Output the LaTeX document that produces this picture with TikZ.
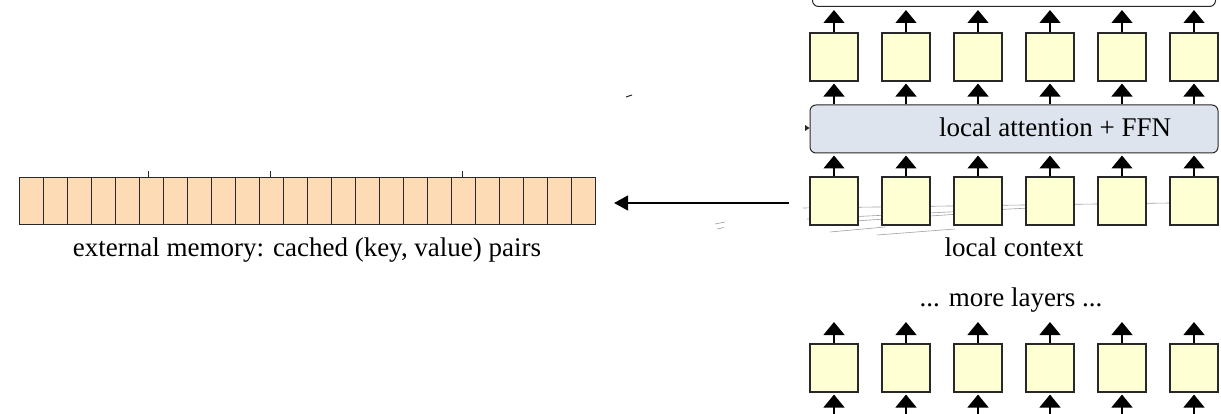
\documentclass[tikz,border=0pt]{standalone}
\usepackage{fontspec}
\setmainfont{Liberation Serif}
\usetikzlibrary{arrows.meta}

\definecolor{memfill}{RGB}{253,219,180}
\definecolor{tokfill}{RGB}{255,255,212}
\definecolor{attfill}{RGB}{221,228,238}
\definecolor{edge}{RGB}{40,40,40}

\begin{document}
\begin{tikzpicture}[x=1pt,y=-1pt,
  cell/.style={draw=edge, line width=1.1pt, fill=memfill, minimum width=24pt,
    minimum height=47pt, inner sep=0pt, anchor=north west},
  tok/.style={draw=edge, line width=1.1pt, fill=tokfill, minimum width=48pt,
    minimum height=48pt, inner sep=0pt},
  up/.style={line width=1.3pt, -{Triangle[length=13pt,width=21pt]}},
  lbl/.style={font=\fontsize{27}{30}\selectfont, inner sep=0pt, anchor=base},
  faint/.style={draw=gray!75, line width=0.6pt},
]
\useasboundingbox (0,0) rectangle (1221,414);
\clip (0,0) rectangle (1221,414);

% external memory: a row of cached key/value slots
\foreach \k in {0,...,23}
  \node[cell] (m\k) at ({19+24*\k},177) {};
\node[lbl] (memlbl) at (307,257) {external memory: cached (key, value) pairs};
\foreach \x in {148,270,462}
  \draw[edge, line width=0.8pt] (\x,171) -- (\x,177);

% faint attention traces behind the local context
\draw[faint] (803,208) -- (1170,203);
\draw[faint] (807,219) -- (1030,208);
\draw[faint] (810,224) -- (960,214);
\draw[faint] (830,232) -- (885,227);
\draw[faint] (877,235) -- (955,229);
\draw[faint] (715,224) -- (725,222);
\draw[faint] (717,229) -- (724,227.5);
\draw[edge, line width=1pt] (626,97) -- (632,95);

% the next block up, only its lower edge visible
\node[draw=edge, line width=1pt, rounded corners=6pt, minimum width=403pt,
  minimum height=80pt, anchor=south, inner sep=0pt] (upper) at (1014,7) {};

% shared attention + feed-forward block
\node[draw=edge, line width=1pt, fill=attfill, rounded corners=6pt,
  minimum width=408pt, minimum height=48pt, inner sep=0pt] (att) at (1014,129) {};
\node[lbl] (attlbl) at (1055,137) {local attention + FFN};
\fill[edge] (805,125) -- (809.5,128) -- (805,131) -- cycle;

% three rows of token states
\foreach \i/\x in {1/834,2/906,3/978,4/1050,5/1122,6/1194} {
  \node[tok] (t\i) at (\x,57) {};
  \node[tok] (l\i) at (\x,201) {};
  \node[tok] (b\i) at (\x,368) {};
  \coordinate (bt\i) at (\x,322);
  \coordinate (bb\i) at (\x,416);
  \draw[up, shorten >=3pt] (t\i.north) -- (t\i.north |- upper.south);
  \draw[up, shorten >=2pt] (t\i.south |- att.north) -- (t\i.south);
  \draw[up, shorten >=2pt] (l\i.north) -- (l\i.north |- att.south);
  \draw[up] (b\i.north) -- (bt\i);
  \draw[up, shorten >=2pt] (bb\i) -- (b\i.south);
}
\node[lbl] (ctxlbl) at (1014,257) {local context};
\node[lbl] (morelbl) at (1011,306) {... more layers ...};

% lookup into the external memory
\coordinate (src) at (789,203);
\draw[line width=1.3pt, -{Triangle[length=14pt,width=15pt]}, shorten >=18pt]
  (src) -- (m23.east |- src);
\end{tikzpicture}
\end{document}
